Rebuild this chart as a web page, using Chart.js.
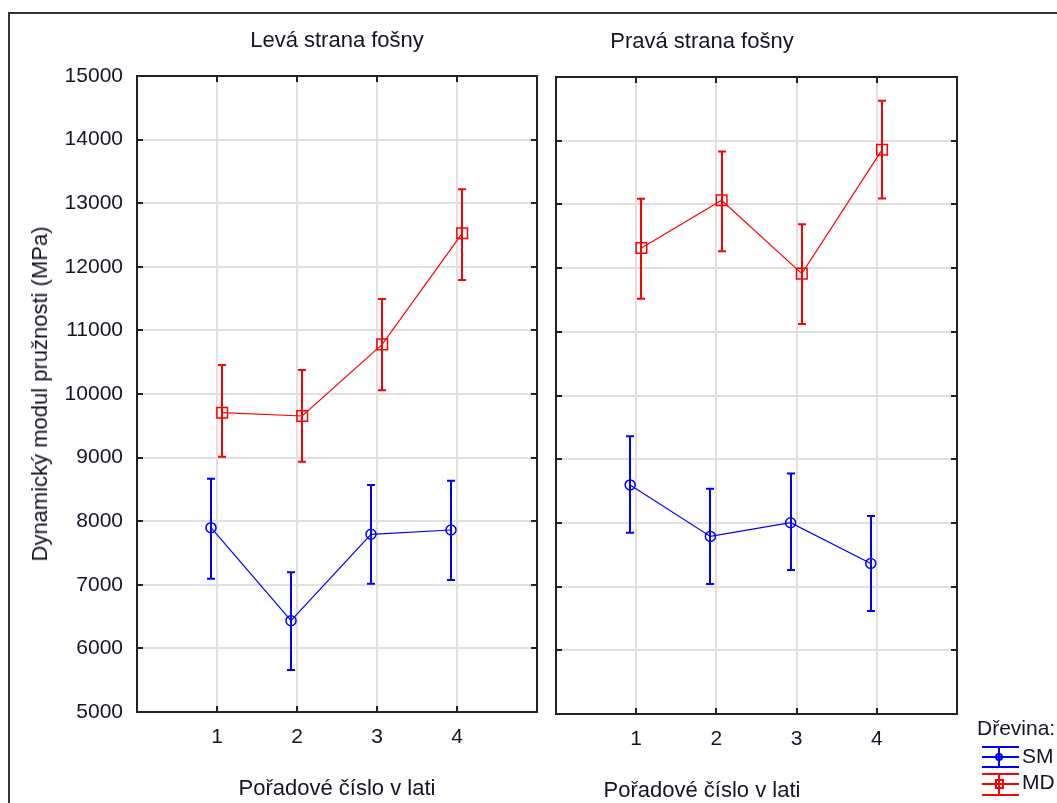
<!DOCTYPE html>
<html>
<head>
<meta charset="utf-8">
<script src="https://cdn.jsdelivr.net/npm/chart.js@4.4.1/dist/chart.umd.min.js"></script>
<style>
  html, body { margin: 0; padding: 0; background: #fff; width: 1057px; height: 803px; overflow: hidden;
    font-family: "Liberation Sans", Arial, sans-serif; color: #141428; }
  #frame { position: absolute; left: 8px; top: 12px; width: 1200px; height: 1000px; border: 2px solid #333; }
  canvas { position: absolute; top: 0; }
  .lbl { position: absolute; font-size: 22px; white-space: nowrap; transform: translate(-50%, -50%); }
  .rot { transform: translate(-50%, -50%) rotate(-90deg); }
  .leg { position: absolute; font-size: 21px; white-space: nowrap; }
</style>
</head>
<body>
<div id="frame"></div>
<canvas id="left" width="560" height="803" style="left:0"></canvas>
<canvas id="right" width="517" height="803" style="left:540px"></canvas>

<div class="lbl" style="left:337px; top:40px">Levá strana fošny</div>
<div class="lbl" style="left:702px; top:41px">Pravá strana fošny</div>
<div class="lbl" style="left:337px; top:788px">Pořadové číslo v lati</div>
<div class="lbl" style="left:702px; top:790px">Pořadové číslo v lati</div>
<div class="lbl rot" style="left:40px; top:394px">Dynamický modul pružnosti (MPa)</div>

<div class="leg" style="left:977px; top:716px">Dřevina:</div>
<svg style="position:absolute; left:981px; top:745px" width="40" height="24">
  <g stroke="#0000ff" stroke-width="2" fill="none">
    <line x1="1" y1="2" x2="38" y2="2"/><line x1="1" y1="22" x2="38" y2="22"/>
    <line x1="1" y1="12" x2="38" y2="12"/><line x1="18" y1="2" x2="18" y2="22"/>
    <circle cx="18" cy="12" r="3"/>
  </g>
</svg>
<div class="leg" style="left:1022px; top:744px">SM</div>
<svg style="position:absolute; left:981px; top:772px" width="40" height="26">
  <g stroke="#ff0000" stroke-width="2" fill="none">
    <line x1="1" y1="2" x2="38" y2="2"/><line x1="1" y1="23" x2="38" y2="23"/>
    <line x1="1" y1="12" x2="38" y2="12"/><line x1="18" y1="2" x2="18" y2="23"/>
    <rect x="15" y="8" width="7" height="8"/>
  </g>
</svg>
<div class="leg" style="left:1022px; top:770px">MD</div>

<script>
// Pořadové číslo v lati
const categories = ['1', '2', '3', '4'];
const yTicksMin = 5000;
const yTicksMax = 15000;

// Levá strana fošny
const leftSmMean = [7898, 6436, 7794, 7862];
const leftSmLow  = [7096, 5660, 7017, 7075];
const leftSmHigh = [8668, 7197, 8569, 8637];
const leftMdMean = [9706, 9654, 10781, 12527];
const leftMdLow  = [9014, 8936, 10058, 11792];
const leftMdHigh = [10456, 10377, 11494, 13219];

// Pravá strana fošny
const rightSmMean = [8596, 7788, 8003, 7363];
const rightSmLow  = [7846, 7039, 7259, 6615];
const rightSmHigh = [9360, 8538, 8774, 8108];
const rightMdMean = [12316, 13066, 11914, 13857];
const rightMdLow  = [11520, 12264, 11121, 13093];
const rightMdHigh = [13087, 13832, 12689, 14627];

const SM_SHIFT = -0.075;   // series drawn slightly apart around each category
const MD_SHIFT = 0.065;
const BLUE = '#0000ff';
const RED  = '#ff0000';

function toPoints(means, shift) {
  return means.map((m, i) => ({ x: i + 1 + shift, y: m }));
}

// plot frame with small inward tick marks
const framePlugin = {
  id: 'frame',
  beforeDatasetsDraw(chart) {
    const { ctx, chartArea: a, scales } = chart;
    ctx.save();
    ctx.strokeStyle = '#222';
    ctx.lineWidth = 2;
    ctx.strokeRect(a.left, a.top, a.right - a.left, a.bottom - a.top);
    ctx.beginPath();
    scales.y.ticks.forEach(t => {
      const p = Math.round(scales.y.getPixelForValue(t.value));
      ctx.moveTo(a.left, p);  ctx.lineTo(a.left + 6, p);
      ctx.moveTo(a.right, p); ctx.lineTo(a.right - 6, p);
    });
    scales.x.ticks.forEach(t => {
      const p = Math.round(scales.x.getPixelForValue(t.value));
      ctx.moveTo(p, a.top);    ctx.lineTo(p, a.top + 6);
      ctx.moveTo(p, a.bottom); ctx.lineTo(p, a.bottom - 6);
    });
    ctx.stroke();
    ctx.restore();
  }
};

// vertical whiskers from errLow to errHigh
const errorBarPlugin = {
  id: 'errorBars',
  afterDatasetsDraw(chart) {
    const ctx = chart.ctx;
    const ys = chart.scales.y;
    chart.data.datasets.forEach((ds, di) => {
      const meta = chart.getDatasetMeta(di);
      ctx.save();
      ctx.strokeStyle = ds.borderColor;
      ctx.lineWidth = 2;
      ctx.beginPath();
      meta.data.forEach((pt, i) => {
        const x = Math.round(pt.x);
        const lo = ys.getPixelForValue(ds.errLow[i]);
        const hi = ys.getPixelForValue(ds.errHigh[i]);
        ctx.moveTo(x, lo); ctx.lineTo(x, hi);
        ctx.moveTo(x - 4, lo); ctx.lineTo(x + 4, lo);
        ctx.moveTo(x - 4, hi); ctx.lineTo(x + 4, hi);
      });
      ctx.stroke();
      ctx.restore();
    });
  }
};

function series(label, means, lows, highs, shift, color, style) {
  return {
    label: label,
    data: toPoints(means, shift),
    errLow: lows,
    errHigh: highs,
    borderColor: color,
    borderWidth: 1.2,
    showLine: true,
    tension: 0,
    pointStyle: style,
    pointRadius: style === 'rect' ? 7.5 : 5,
    pointBorderWidth: 1.5,
    pointBorderColor: color,
    pointBackgroundColor: 'rgba(0,0,0,0)',
  };
}

function makeChart(id, datasets, opts) {
  const ctx = document.getElementById(id).getContext('2d');
  return new Chart(ctx, {
    type: 'line',
    data: { datasets: datasets },
    options: {
      responsive: false,
      animation: false,
      devicePixelRatio: 1,
      layout: { padding: opts.padding },
      plugins: { legend: { display: false }, tooltip: { enabled: false } },
      scales: {
        x: {
          type: 'linear',
          min: 0, max: 5,
          afterFit: (s) => { s.height = opts.xHeight; },
          grid: { color: '#e0e0e0', lineWidth: 2, drawTicks: false },
          border: { display: false },
          ticks: {
            stepSize: 1,
            padding: 13,
            color: '#141428',
            font: { family: 'Liberation Sans', size: 21 },
            callback: (v) => (v >= 1 && v <= categories.length) ? categories[v - 1] : '',
          },
        },
        y: {
          min: yTicksMin, max: yTicksMax,
          afterFit: (s) => { s.width = opts.yWidth; },
          grid: { color: '#e0e0e0', lineWidth: 2, drawTicks: false },
          border: { display: false },
          ticks: {
            display: opts.yLabels,
            stepSize: 1000,
            padding: 14,
            color: '#141428',
            font: { family: 'Liberation Sans', size: 21 },
            callback: (v) => String(v),
          },
        },
      },
    },
    plugins: [framePlugin, errorBarPlugin],
  });
}

makeChart('left', [
  series('SM', leftSmMean, leftSmLow, leftSmHigh, SM_SHIFT, BLUE, 'circle'),
  series('MD', leftMdMean, leftMdLow, leftMdHigh, MD_SHIFT, RED, 'rect'),
], { padding: { left: 0, top: 76, right: 23, bottom: 0 }, xHeight: 91, yWidth: 137, yLabels: true });

makeChart('right', [
  series('SM', rightSmMean, rightSmLow, rightSmHigh, SM_SHIFT, BLUE, 'circle'),
  series('MD', rightMdMean, rightMdLow, rightMdHigh, MD_SHIFT, RED, 'rect'),
], { padding: { left: 16, top: 77, right: 100, bottom: 0 }, xHeight: 89, yWidth: 0, yLabels: false });
</script>
</body>
</html>
